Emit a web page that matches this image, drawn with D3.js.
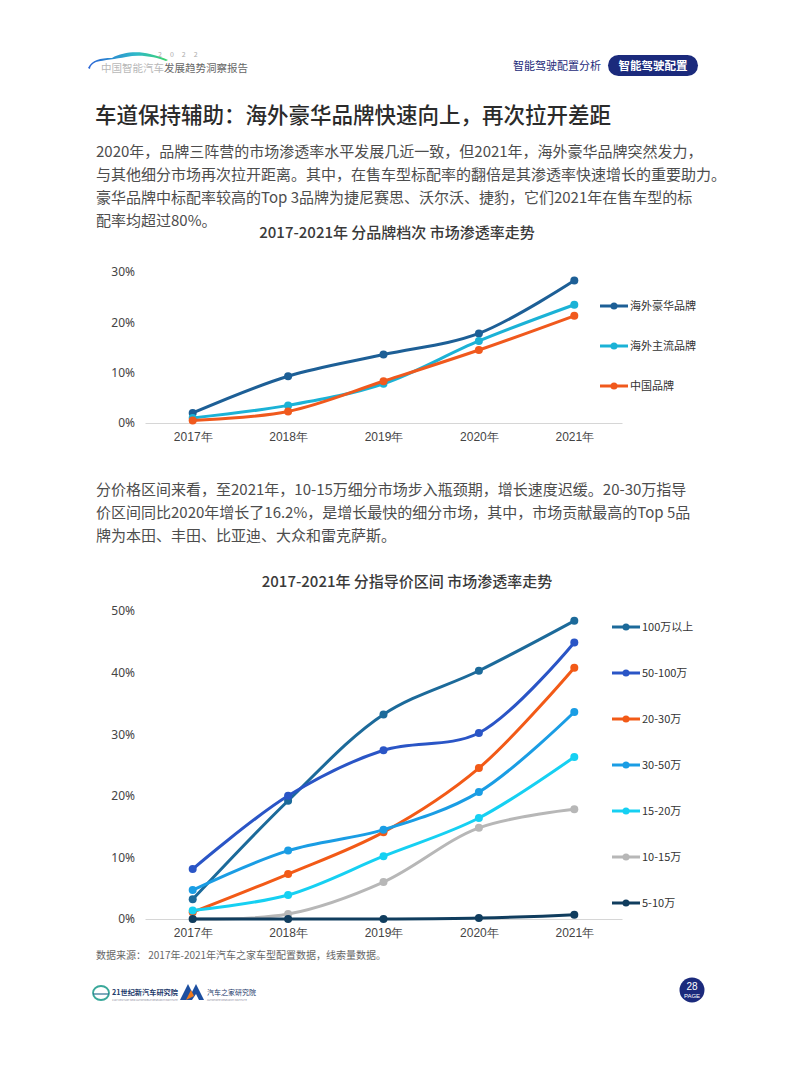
<!DOCTYPE html>
<html><head><meta charset="utf-8">
<script src="https://cdn.jsdelivr.net/npm/d3@7"></script>
<style>
html,body{margin:0;padding:0;background:#fff;}
svg{display:block;font-family:"Noto Sans CJK SC","Noto Sans",sans-serif;}
</style></head>
<body>
<svg id="page" width="793" height="1077"></svg>
<script>
// ---------- data ----------
const years = ["2017年","2018年","2019年","2020年","2021年"];

const brandSeries = ["海外豪华品牌","海外主流品牌","中国品牌"];
const luxuryForeign = [2.0, 9.3, 13.6, 17.8, 28.3];
const mainstreamForeign = [1.0, 3.5, 7.8, 16.3, 23.5];
const chineseBrand = [0.5, 2.3, 8.3, 14.5, 21.3];
const brandTicks = [0, 10, 20, 30];

const priceSeries = ["100万以上","50-100万","20-30万","30-50万","15-20万","10-15万","5-10万"];
const p100up = [3.2, 19.2, 33.2, 40.3, 48.4];
const p50to100 = [8.1, 20.0, 27.4, 30.2, 44.9];
const p20to30 = [1.1, 7.3, 14.1, 24.5, 40.8];
const p30to50 = [4.7, 11.1, 14.5, 20.6, 33.6];
const p15to20 = [1.4, 3.9, 10.2, 16.4, 26.3];
const p10to15 = [0.0, 0.8, 6.0, 14.8, 17.8];
const p5to10 = [0.0, 0.0, 0.0, 0.15, 0.7];
const priceTicks = [0, 10, 20, 30, 40, 50];

const titleText = "车道保持辅助：海外豪华品牌快速向上，再次拉开差距";
const para1 = [
  "2020年，品牌三阵营的市场渗透率水平发展几近一致，但2021年，海外豪华品牌突然发力，",
  "与其他细分市场再次拉开距离。其中，在售车型标配率的翻倍是其渗透率快速增长的重要助力。",
  "豪华品牌中标配率较高的Top  3品牌为捷尼赛思、沃尔沃、捷豹，它们2021年在售车型的标",
  "配率均超过80%。"
];
const para2 = [
  "分价格区间来看，至2021年，10-15万细分市场步入瓶颈期，增长速度迟缓。20-30万指导",
  "价区间同比2020年增长了16.2%，是增长最快的细分市场，其中，市场贡献最高的Top  5品",
  "牌为本田、丰田、比亚迪、大众和雷克萨斯。"
];
const chart1Title = "2017-2021年 分品牌档次 市场渗透率走势";
const chart2Title = "2017-2021年 分指导价区间 市场渗透率走势";
const sourceText = "数据来源： 2017年-2021年汽车之家车型配置数据，线索量数据。";

// ---------- page ----------
const svg = d3.select("#page");

// header logo
const defs = svg.append("defs");
const g1 = defs.append("linearGradient").attr("id","swoosh").attr("x1","0").attr("x2","1");
g1.append("stop").attr("offset","0").attr("stop-color","#2a63d6");
g1.append("stop").attr("offset","0.6").attr("stop-color","#2fb9c9");
g1.append("stop").attr("offset","1").attr("stop-color","#3ed36a");
svg.append("path").attr("d","M88,68 C92,60 100,58 112,58 C122,52 138,51 150,54 C158,56 164,58 168,60 L166,61 C156,57 140,54 126,57 C116,59 104,60 96,62 C92,64 90,66 90,69 Z")
  .attr("fill","url(#swoosh)");
svg.append("text").attr("x",158).attr("y",57).attr("font-size",7).attr("fill","#aaa").attr("letter-spacing","8").text("2022");
svg.append("text").attr("x",101).attr("y",72).attr("font-size",10.5).attr("fill","#b8b8b8").text("中国智能汽车");
svg.append("text").attr("x",164).attr("y",72).attr("font-size",10.5).attr("fill","#666").text("发展趋势洞察报告");

svg.append("text").attr("x",513).attr("y",70).attr("font-size",11).attr("fill","#1d2b7a").text("智能驾驶配置分析");
svg.append("rect").attr("x",608).attr("y",55).attr("width",90).attr("height",21).attr("rx",10.5).attr("fill","#1b2a7c");
svg.append("text").attr("x",653).attr("y",69.5).attr("text-anchor","middle").attr("font-size",11.5).attr("font-weight",700).attr("fill","#fff").text("智能驾驶配置");

// title
svg.append("text").attr("x",95).attr("y",123).attr("font-size",21.5).attr("font-weight",500).attr("fill","#2b2b2b").text(titleText);

// paragraphs
function para(lines, y0) {
  lines.forEach((l,i)=>{
    svg.append("text").attr("x",96).attr("y",y0+i*23).attr("font-size",15).attr("fill","#4d4d4d").text(l);
  });
}
para(para1, 157);
para(para2, 495);

// ---------- chart helper ----------
function drawChart(opt) {
  const g = svg.append("g");
  const x = d3.scalePoint().domain(years).range([145, 622]).padding(0.5);
  const y = d3.scaleLinear().domain([0, opt.maxV]).range([opt.y0, opt.yTop]);

  g.append("text").attr("x",opt.titleX).attr("y",opt.titleY).attr("text-anchor","middle")
    .attr("font-size",15).attr("font-weight",500).attr("fill","#3a3a3a").text(opt.title);

  // y axis labels
  const ya = d3.axisLeft(y).tickValues(opt.ticks).tickFormat(d=>d+"%").tickSize(0).tickPadding(0);
  const yg = g.append("g").attr("transform","translate(135,0)").call(ya);
  yg.select(".domain").remove();
  yg.selectAll("text").attr("font-size",12).attr("fill","#444").attr("font-family","'Noto Sans',sans-serif");

  // x axis
  const xa = d3.axisBottom(x).tickSize(0).tickPadding(9);
  const xg = g.append("g").attr("transform",`translate(0,${opt.y0})`).call(xa);
  xg.select(".domain").attr("stroke","#d6d6d6").attr("stroke-width",1);
  xg.selectAll("text").attr("font-size",12).attr("fill","#444");

  const line = d3.line().x((d,i)=>x(years[i])).y(d=>y(d)).curve(d3.curveCatmullRom.alpha(0.5));
  // later series drawn on top
  opt.series.forEach(s=>{
    g.append("path").attr("d",line(s.values)).attr("fill","none")
      .attr("stroke",s.color).attr("stroke-width",3).attr("stroke-linejoin","round");
    g.selectAll(null).data(s.values).enter().append("circle")
      .attr("cx",(d,i)=>x(years[i])).attr("cy",d=>y(d)).attr("r",4).attr("fill",s.color);
  });

  // legend
  opt.series.forEach((s,i)=>{
    const ly = opt.legendY[i];
    g.append("line").attr("x1",opt.legendX).attr("x2",opt.legendX+28).attr("y1",ly).attr("y2",ly)
      .attr("stroke",s.color).attr("stroke-width",3);
    g.append("circle").attr("cx",opt.legendX+14).attr("cy",ly).attr("r",3.5).attr("fill",s.color);
    g.append("text").attr("x",opt.legendX+30).attr("y",ly).attr("dy","0.35em")
      .attr("font-size",11).attr("fill","#333").text(s.name);
  });
}

drawChart({
  title: chart1Title, titleX: 397, titleY: 238,
  maxV: 30, ticks: brandTicks, y0: 423, yTop: 272,
  legendX: 600, legendY: [306, 346, 386],
  series: [
    {name: brandSeries[0], values: luxuryForeign, color: "#1d5f96"},
    {name: brandSeries[1], values: mainstreamForeign, color: "#1bb2d6"},
    {name: brandSeries[2], values: chineseBrand, color: "#f0591d"}
  ]
});

drawChart({
  title: chart2Title, titleX: 407, titleY: 587,
  maxV: 50, ticks: priceTicks, y0: 919, yTop: 611,
  legendX: 612, legendY: [627, 673, 719, 765, 811, 857, 903],
  series: [
    {name: priceSeries[0], values: p100up, color: "#1c6a9a"},
    {name: priceSeries[1], values: p50to100, color: "#2a55c6"},
    {name: priceSeries[2], values: p20to30, color: "#f25a17"},
    {name: priceSeries[3], values: p30to50, color: "#1a9de4"},
    {name: priceSeries[4], values: p15to20, color: "#16d0f2"},
    {name: priceSeries[5], values: p10to15, color: "#b7b7b7"},
    {name: priceSeries[6], values: p5to10, color: "#103d5e"}
  ]
});

// source
svg.append("text").attr("x",96).attr("y",959).attr("font-size",10).attr("fill","#666").text(sourceText);

// footer logos
const f = svg.append("g");
f.append("ellipse").attr("cx",101).attr("cy",993).attr("rx",8).attr("ry",7).attr("fill","none").attr("stroke","#3aa89a").attr("stroke-width",1.8);
f.append("line").attr("x1",93).attr("x2",109).attr("y1",994).attr("y2",994).attr("stroke","#2a6f8f").attr("stroke-width",1.2);
f.append("text").attr("x",112).attr("y",995).attr("font-size",7.2).attr("font-weight",700).attr("fill","#1d3a6b").text("21世纪新汽车研究院");
f.append("text").attr("x",112).attr("y",1001).attr("font-size",2.5).attr("fill","#889").text("21ST CENTURY NEW AUTOMOBILE RESEARCH INSTITUTE");
f.append("path").attr("d","M180,1000 L188,984 L192,992 L196,984 L204,1000 L199,1000 L196,994 L192,1000 Z").attr("fill","#1d4fa0");
f.append("path").attr("d","M186,1000 L191,990 L194,996 Z").attr("fill","#f07a1a");
f.append("text").attr("x",207).attr("y",995).attr("font-size",7).attr("fill","#1d3a6b").text("汽车之家研究院");
f.append("text").attr("x",207).attr("y",1001).attr("font-size",2.5).attr("fill","#889").text("AUTOHOME RESEARCH INSTITUTE");

// page badge
svg.append("circle").attr("cx",692).attr("cy",990).attr("r",12.5).attr("fill","#1b2a7c");
svg.append("text").attr("x",692).attr("y",990).attr("text-anchor","middle").attr("font-size",10).attr("fill","#fff").attr("font-family","'Liberation Sans',sans-serif").text("28");
svg.append("text").attr("x",692).attr("y",998).attr("text-anchor","middle").attr("font-size",6).attr("fill","#fff").attr("font-family","'Liberation Sans',sans-serif").text("PAGE");
</script>
</body></html>
